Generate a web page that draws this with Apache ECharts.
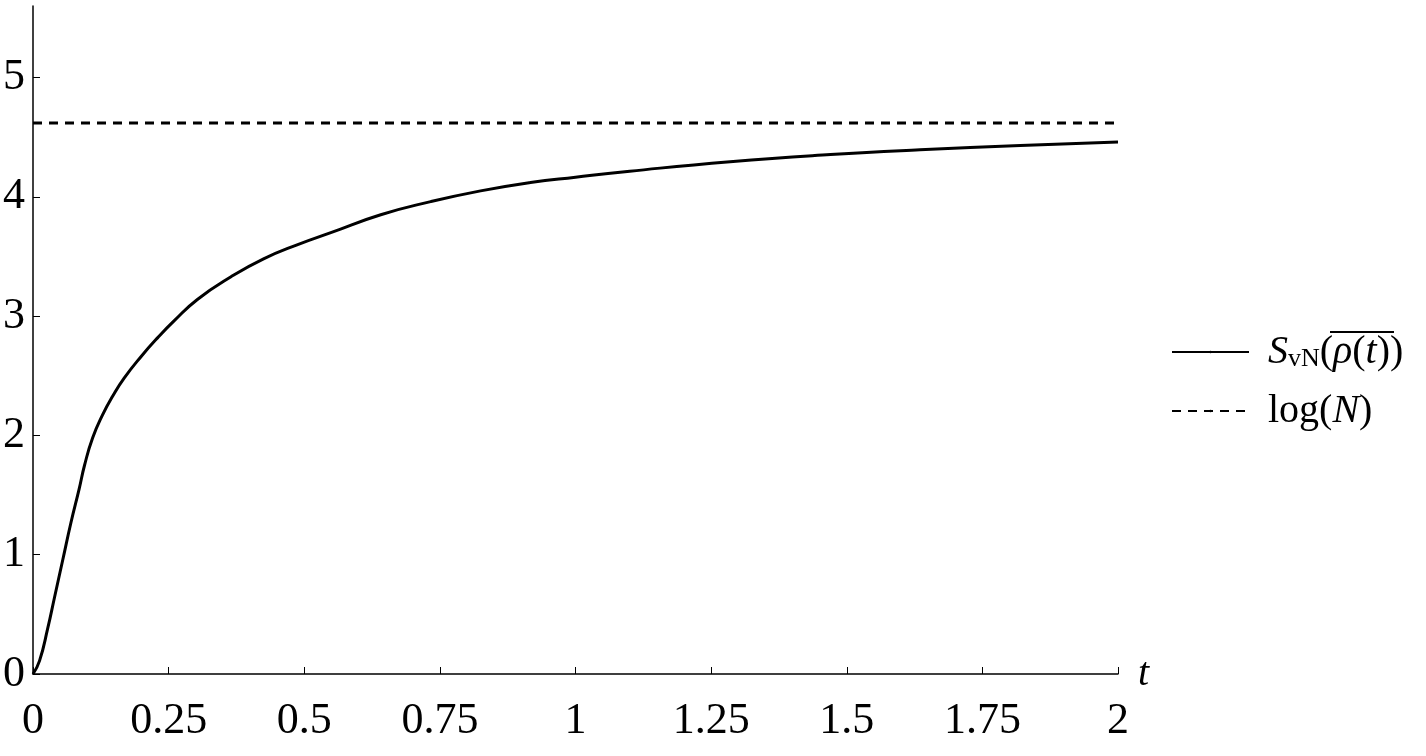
<!DOCTYPE html>
<html>
<head>
<meta charset="utf-8">
<script src="https://cdn.jsdelivr.net/npm/echarts@6/dist/echarts.min.js"></script>
<style>
  html, body { margin: 0; padding: 0; background: #fff; }
  #chart { width: 1426px; height: 756px; }
</style>
</head>
<body>
<div id="chart"></div>
<script>
  // values
  var tValues = [0, 0.012, 0.027, 0.04, 0.055, 0.07, 0.085, 0.095, 0.11, 0.128, 0.147, 0.168, 0.199, 0.23, 0.26, 0.303, 0.365, 0.425, 0.488, 0.549, 0.641, 0.733, 0.825, 0.917, 1.0, 1.1, 1.285, 1.47, 1.635, 1.82, 2.0]
  var entropyValues = [0, 0.11, 0.38, 0.65, 0.96, 1.27, 1.55, 1.75, 1.98, 2.17, 2.33, 2.48, 2.66, 2.82, 2.96, 3.14, 3.33, 3.48, 3.60, 3.70, 3.85, 3.96, 4.05, 4.12, 4.165, 4.215, 4.295, 4.355, 4.395, 4.43, 4.46]
  var logNRange = [0, 2]
  var logN = 4.62
  var yTicks = [0, 1, 2, 3, 4, 5]

  var serif = '"Liberation Serif", "DejaVu Serif", serif'
  var entropyName = 'S_vN'
  var logName = 'log(N)'

  var chart = echarts.init(document.getElementById('chart'))

  var option = {
    animation: false,
    backgroundColor: '#fff',
    grid: {
      left: 32,
      right: 308,
      top: 6,
      bottom: 82
    },
    legend: {
      orient: 'vertical',
      left: 1171,
      top: 332,
      padding: 0,
      itemWidth: 77,
      itemHeight: 3,
      itemGap: 19,
      selectedMode: false,
      data: [entropyName, logName],
      formatter: function(name) {
        if (name === entropyName) {
          return '{it|S}{sub|vN}{n|(}{it|ρ}{n|(}{it|t}{n|))}'
        }
        return '{n|log(}{it|N}{n|)}'
      },
      textStyle: {
        fontFamily: serif,
        fontSize: 40,
        color: '#000',
        padding: [0, 0, 0, 14],
        rich: {
          n: { fontFamily: serif, fontSize: 40, color: '#000' },
          it: { fontFamily: serif, fontSize: 40, fontStyle: 'italic', color: '#000' },
          sub: { fontFamily: serif, fontSize: 26, color: '#000', verticalAlign: 'bottom', padding: [14, 0, 0, 0] }
        }
      }
    },
    // overline above rho(t) in the legend text
    graphic: [{
      type: 'line',
      shape: { x1: 1330, y1: 332, x2: 1394, y2: 332 },
      style: { stroke: '#000', lineWidth: 2 }
    }],
    xAxis: {
      type: 'value',
      min: 0,
      max: 2,
      interval: 0.25,
      name: 't',
      nameLocation: 'end',
      nameGap: 20,
      nameTextStyle: {
        fontFamily: serif,
        fontSize: 40,
        fontStyle: 'italic',
        color: '#000',
        padding: [20, 0, 0, 0]
      },
      splitLine: { show: false },
      axisLine: { lineStyle: { color: '#000', width: 1.5 } },
      axisTick: { inside: true, length: 7, lineStyle: { color: '#000', width: 1 } },
      axisLabel: {
        fontFamily: serif,
        fontSize: 44,
        color: '#000',
        margin: 25,
        showMinLabel: true,
        showMaxLabel: true
      }
    },
    yAxis: {
      type: 'value',
      min: 0,
      max: 5.6,
      splitLine: { show: false },
      axisLine: { show: true, lineStyle: { color: '#000', width: 1.5 } },
      axisTick: { show: true, inside: true, length: 7, customValues: yTicks, lineStyle: { color: '#000', width: 1 } },
      axisLabel: {
        fontFamily: serif,
        fontSize: 44,
        color: '#000',
        margin: 8,
        customValues: yTicks
      }
    },
    series: [
      {
        name: entropyName,
        type: 'line',
        symbol: 'none',
        smooth: true,
        lineStyle: { color: '#000', width: 3 },
        itemStyle: { color: '#000' },
        data: tValues.map(function(t, i) { return [t, entropyValues[i]] })
      },
      {
        name: logName,
        type: 'line',
        symbol: 'none',
        lineStyle: { color: '#000', width: 3, type: [9, 7] },
        itemStyle: { color: '#000' },
        data: logNRange.map(function(t) { return [t, logN] })
      }
    ]
  }

  chart.setOption(option)
</script>
</body>
</html>
